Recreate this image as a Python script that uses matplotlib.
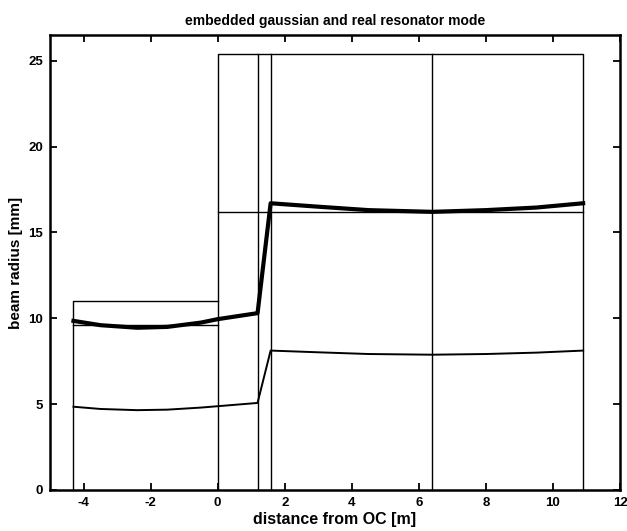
import matplotlib
matplotlib.use("Agg")
import matplotlib.pyplot as plt

# ---- data ----
# element positions along the resonator [m]
elem_x = [-4.3, 0.0, 1.19, 1.58, 6.4, 10.9]
aperture_small = 11.0      # mm, aperture of the left section
aperture_large = 25.4      # mm, aperture of the right section
ref_small = 9.6            # mm, reference radius in left section
ref_large = 16.2           # mm, reference radius in right section

# real resonator mode (thick curve)
real_x = [-4.3, -3.5, -2.4, -1.5, -0.5, 0.0, 1.19, 1.58, 3.0, 4.5, 6.4, 8.0, 9.5, 10.9]
real_y = [9.85, 9.6, 9.45, 9.5, 9.75, 9.95, 10.3, 16.7, 16.5, 16.3, 16.2, 16.3, 16.45, 16.7]

# embedded gaussian (thin curve)
gauss_x = [-4.3, -3.5, -2.4, -1.5, -0.5, 0.0, 1.19, 1.58, 3.0, 4.5, 6.4, 8.0, 9.5, 10.9]
gauss_y = [4.85, 4.72, 4.65, 4.68, 4.8, 4.88, 5.07, 8.12, 8.02, 7.92, 7.88, 7.92, 8.0, 8.12]

x_ticks = [-4, -2, 0, 2, 4, 6, 8, 10, 12]
y_ticks = [0, 5, 10, 15, 20, 25]

plt.rcParams['font.family'] = ['Liberation Sans', 'DejaVu Sans']
plt.rcParams['font.weight'] = 'bold'
plt.rcParams['axes.unicode_minus'] = False

fig = plt.figure(figsize=(6.27, 5.31), dpi=100)
ax = fig.add_axes([50/627, 41/531, 570/627, 455/531])

lw_thin = 1.0
# left section box
x0, x1, x2, x3, x4, x5 = elem_x
ax.plot([x0, x0, x1], [0, aperture_small, aperture_small], color='black', lw=lw_thin)
ax.plot([x0, x1], [ref_small, ref_small], color='black', lw=lw_thin)
# right section box
ax.plot([x1, x1, x5, x5], [0, aperture_large, aperture_large, 0], color='black', lw=lw_thin)
ax.plot([x1, x5], [ref_large, ref_large], color='black', lw=lw_thin)
for xv in (x2, x3, x4):
    ax.plot([xv, xv], [0, aperture_large], color='black', lw=lw_thin)

ax.plot(real_x, real_y, color='black', lw=3.0, solid_joinstyle='round')
ax.plot(gauss_x, gauss_y, color='black', lw=1.4)

ax.set_xlim(-5, 12)
ax.set_ylim(0, 26.5)
ax.set_xticks(x_ticks)
ax.set_yticks(y_ticks)
ax.tick_params(direction='in', top=True, right=True, length=5, width=1.3,
               labelsize=9.5, pad=5)
for lab in ax.get_xticklabels() + ax.get_yticklabels():
    lab.set_fontweight('bold')
for s in ax.spines.values():
    s.set_linewidth(1.8)

ax.set_title('embedded gaussian and real resonator mode', fontsize=10,
             fontweight='bold', pad=7)
ax.set_xlabel('distance from OC [m]', fontsize=11.5, fontweight='bold', labelpad=2)
ax.set_ylabel('beam radius [mm]', fontsize=11, fontweight='bold', labelpad=4)

fig.savefig('out.png', dpi=100)
